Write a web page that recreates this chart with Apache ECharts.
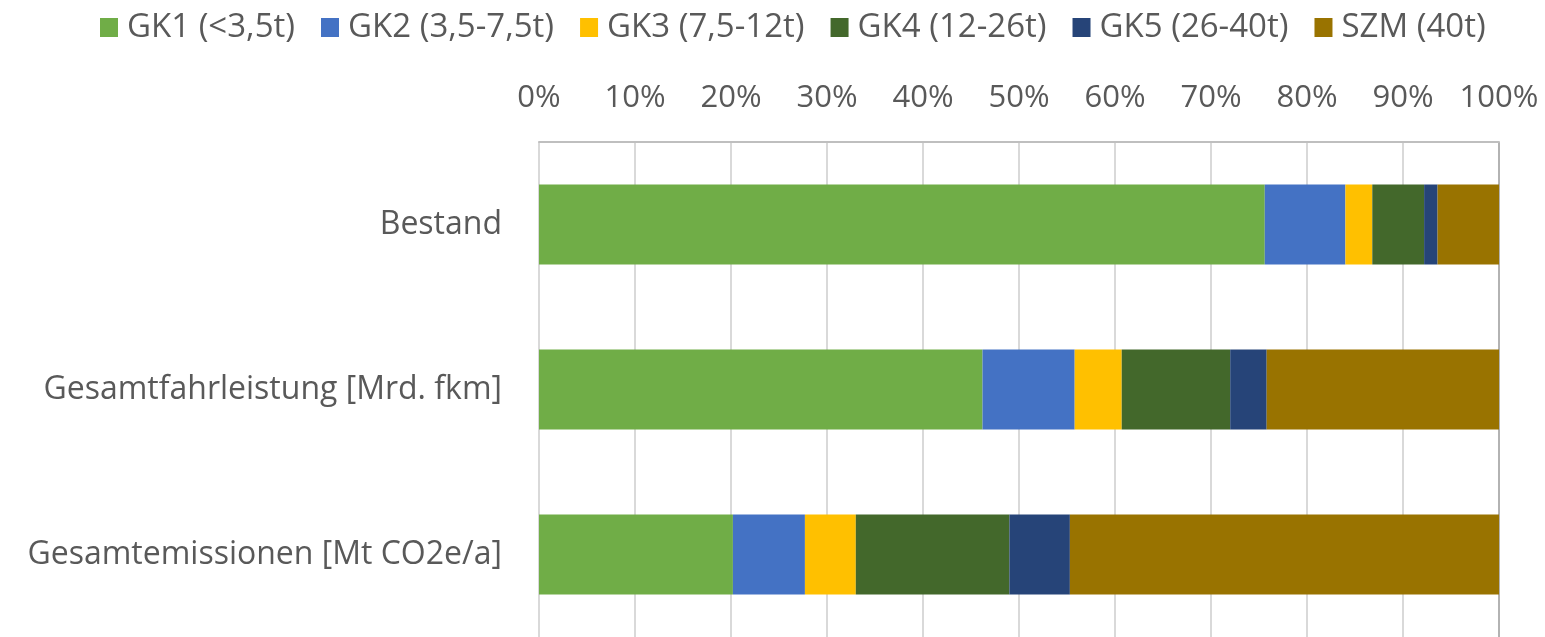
<!DOCTYPE html>
<html>
<head>
<meta charset="utf-8">
<script src="https://cdn.jsdelivr.net/npm/echarts@6/dist/echarts.min.js"></script>
<style>
  html, body { margin: 0; padding: 0; background: #fff; }
  #chart { width: 1545px; height: 637px; }
</style>
</head>
<body>
<div id="chart"></div>
<script>
// Kategorien (von oben nach unten)
const categories = ['Bestand', 'Gesamtfahrleistung [Mrd. fkm]', 'Gesamtemissionen [Mt CO2e/a]'];

// Anteile in % je Gewichtsklasse
const gk1 = [75.6, 46.2, 20.2];
const gk2 = [8.4, 9.6, 7.5];
const gk3 = [2.8, 4.9, 5.3];
const gk4 = [5.4, 11.3, 16.0];
const gk5 = [1.4, 3.8, 6.3];
const szm = [6.4, 24.2, 44.7];

const seriesNames = ['GK1 (<3,5t)', 'GK2 (3,5-7,5t)', 'GK3 (7,5-12t)', 'GK4 (12-26t)', 'GK5 (26-40t)', 'SZM (40t)'];
const seriesData = [gk1, gk2, gk3, gk4, gk5, szm];
const colors = ['#70AD47', '#4472C4', '#FFC000', '#43682B', '#264478', '#997300'];

const font = 'Open Sans';
const textColor = '#595959';

const chart = echarts.init(document.getElementById('chart'));

const option = {
  animation: false,
  color: colors,
  textStyle: { fontFamily: font },
  legend: {
    top: 6,
    left: 95,
    itemWidth: 18,
    itemHeight: 19,
    itemGap: 26,
    icon: 'rect',
    textStyle: { fontSize: 33, color: textColor, fontFamily: font, padding: [0, 0, 0, 4] }
  },
  grid: {
    left: 539,
    right: 46,
    top: 142,
    height: 499
  },
  xAxis: {
    type: 'value',
    position: 'top',
    min: 0,
    max: 100,
    interval: 10,
    axisLine: { show: true, lineStyle: { color: '#bfbfbf', width: 2 } },
    axisTick: { show: false },
    axisLabel: {
      formatter: '{value}%',
      fontSize: 31,
      color: textColor,
      margin: 28,
      fontFamily: font
    },
    splitLine: {
      lineStyle: {
        width: 2,
        color: ['#d9d9d9', '#d9d9d9', '#d9d9d9', '#d9d9d9', '#d9d9d9', '#d9d9d9',
                '#d9d9d9', '#d9d9d9', '#d9d9d9', '#d9d9d9', '#b3b3b3']
      }
    }
  },
  yAxis: {
    type: 'category',
    data: categories,
    inverse: true,
    axisLine: { show: false },
    axisTick: { show: false },
    axisLabel: {
      fontSize: 32,
      color: textColor,
      margin: 37,
      fontFamily: font
    }
  },
  series: seriesNames.map((name, i) => ({
    name: name,
    type: 'bar',
    stack: 'total',
    barWidth: 80,
    data: seriesData[i],
    itemStyle: { color: colors[i] }
  }))
};

chart.setOption(option);
</script>
</body>
</html>
